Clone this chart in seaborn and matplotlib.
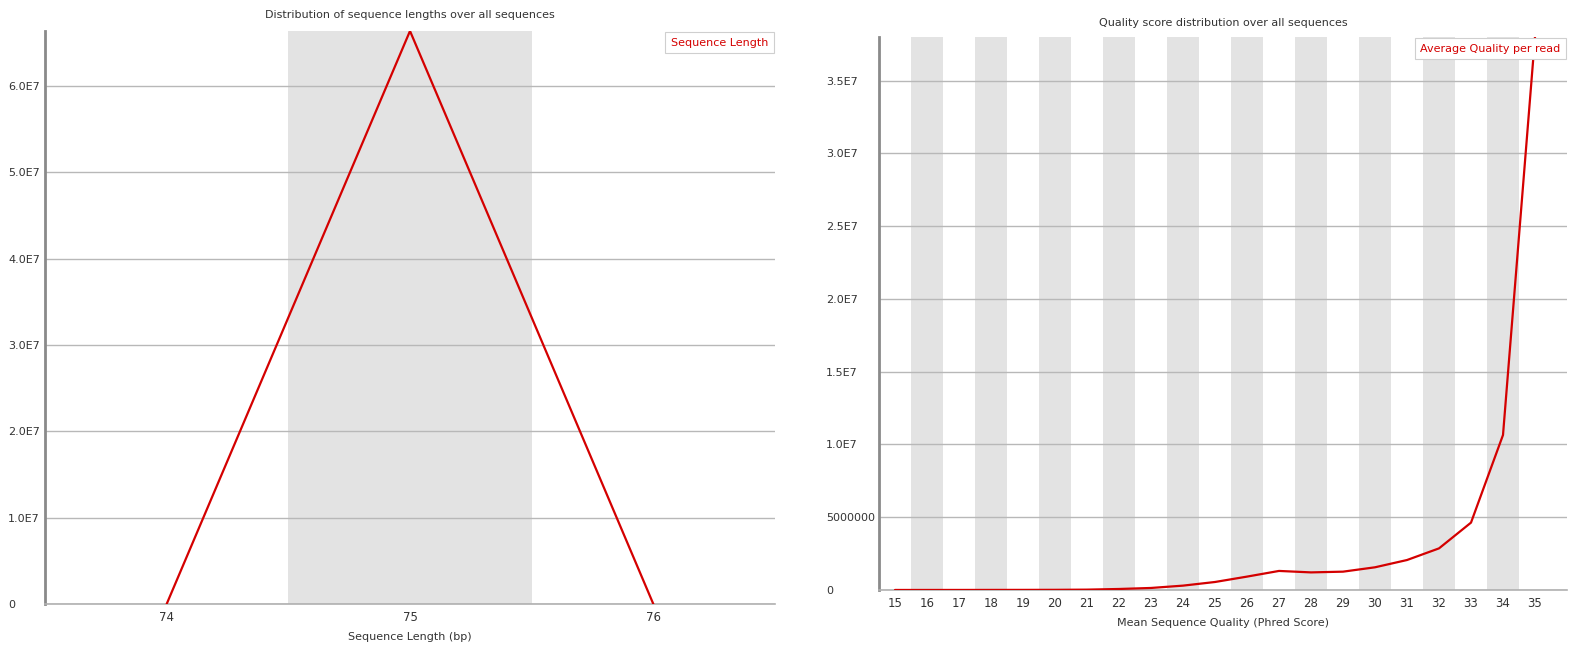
import matplotlib
matplotlib.use("Agg")
import matplotlib.pyplot as plt
import seaborn as sns
import pandas as pd

# Sequence length distribution
length_bins = [74, 75, 76]
length_counts = [0, 66370000, 0]
length_yticks = [0, 10000000, 20000000, 30000000, 40000000, 50000000, 60000000]
length_ytick_labels = ["0", "1.0E7", "2.0E7", "3.0E7", "4.0E7", "5.0E7", "6.0E7"]

# Per-read mean quality distribution
quality_scores = list(range(15, 36))
quality_counts = [2000, 3000, 4000, 6000, 8000, 12000, 25000, 70000, 140000,
                  300000, 550000, 920000, 1310000, 1210000, 1260000, 1560000,
                  2060000, 2860000, 4630000, 10650000, 38000000]
quality_yticks = [0, 5000000, 10000000, 15000000, 20000000, 25000000,
                  30000000, 35000000]
quality_ytick_labels = ["0", "5000000", "1.0E7", "1.5E7", "2.0E7", "2.5E7",
                        "3.0E7", "3.5E7"]

sns.set_style("white")
plt.rcParams["font.family"] = ["DejaVu Sans"]

LINE_RED = "#d40000"
BAND = "#e3e3e3"
GRID = "#b8b8b8"
TEXT = "#333333"

fig = plt.figure(figsize=(15.71, 6.50), dpi=100)
ax1 = fig.add_axes([45 / 1571, 1 - 604 / 650, (775 - 45) / 1571, (604 - 31) / 650])
ax2 = fig.add_axes([879 / 1571, 1 - 590 / 650, (1567 - 879) / 1571, (590 - 37) / 650])


def style_axis(ax, xs, yticks, ylabels, label_pad):
    for i, x in enumerate(xs):
        if i % 2 == 1:
            ax.axvspan(x - 0.5, x + 0.5, color=BAND, lw=0, zorder=0)
    ax.set_yticks(yticks)
    ax.set_yticklabels(ylabels)
    ax.set_xticks(xs)
    ax.set_xticklabels([str(x) for x in xs])
    ax.yaxis.grid(True, color=GRID, lw=1.0, zorder=1)
    ax.set_axisbelow(True)
    ax.tick_params(axis="y", length=0, pad=label_pad, labelsize=8, labelcolor=TEXT)
    ax.tick_params(axis="x", length=0, pad=5, labelsize=8.5, labelcolor=TEXT)
    for lab in ax.get_yticklabels():
        lab.set_horizontalalignment("left")
    for side in ("top", "right"):
        ax.spines[side].set_visible(False)
    ax.spines["left"].set_color("#8a8a8a")
    ax.spines["left"].set_linewidth(2.0)
    ax.spines["bottom"].set_color("#b0b0b0")
    ax.spines["bottom"].set_linewidth(1.2)


def add_key(ax):
    leg = ax.legend(loc="upper right", handlelength=0, handletextpad=0,
                    labelcolor=LINE_RED, frameon=True, fancybox=False,
                    edgecolor="#cfcfcf", framealpha=1, borderaxespad=0.1,
                    fontsize=8, borderpad=0.5)
    for h in leg.legend_handles:
        h.set_visible(False)
    leg.get_frame().set_linewidth(0.8)


# Left panel
df_len = pd.DataFrame({"length": length_bins, "count": length_counts})
sns.lineplot(data=df_len, x="length", y="count", ax=ax1, color=LINE_RED,
             lw=1.6, label="Sequence Length", zorder=3)
style_axis(ax1, length_bins, length_yticks, length_ytick_labels, 26.5)
ax1.set_xlim(73.5, 76.5)
ax1.set_ylim(0, max(length_counts))
ax1.set_title("Distribution of sequence lengths over all sequences",
              fontsize=8, color=TEXT, pad=9)
ax1.set_xlabel("Sequence Length (bp)", fontsize=8, color=TEXT, labelpad=6)
ax1.set_ylabel("")
add_key(ax1)

# Right panel
df_q = pd.DataFrame({"quality": quality_scores, "count": quality_counts})
sns.lineplot(data=df_q, x="quality", y="count", ax=ax2, color=LINE_RED,
             lw=1.6, label="Average Quality per read", zorder=3)
style_axis(ax2, quality_scores, quality_yticks, quality_ytick_labels, 38)
ax2.set_xlim(14.5, 36.0)
ax2.set_ylim(0, max(quality_counts))
ax2.set_title("Quality score distribution over all sequences",
              fontsize=8, color=TEXT, pad=8)
ax2.set_xlabel("Mean Sequence Quality (Phred Score)", fontsize=8, color=TEXT,
               labelpad=6)
ax2.set_ylabel("")
add_key(ax2)

fig.savefig("out.png", dpi=100, facecolor="white")
